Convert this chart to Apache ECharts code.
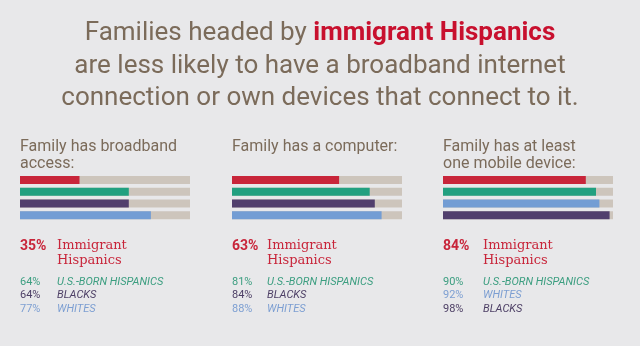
<!DOCTYPE html>
<html><head><meta charset="utf-8">
<script src="https://cdn.jsdelivr.net/npm/echarts@6/dist/echarts.min.js"></script>
<style>html,body{margin:0;padding:0;background:#e8e8ea}#c{width:640px;height:346px}</style>
</head><body><div id="c"></div>
<script>
var panelTitles = [["Family has broadband", "access:"], ["Family has a computer:"], ["Family has at least", "one mobile device:"]];
var panel1Groups = ["Immigrant Hispanics", "U.S.-BORN HISPANICS", "BLACKS", "WHITES"];
var panel1Values = [35, 64, 64, 77];
var panel2Groups = ["Immigrant Hispanics", "U.S.-BORN HISPANICS", "BLACKS", "WHITES"];
var panel2Values = [63, 81, 84, 88];
var panel3Groups = ["Immigrant Hispanics", "U.S.-BORN HISPANICS", "WHITES", "BLACKS"];
var panel3Values = [84, 90, 92, 98];

var groupColors = {"Immigrant Hispanics": "#c8253a", "U.S.-BORN HISPANICS": "#22a080", "BLACKS": "#513f6d", "WHITES": "#739dd4"};
var textColors = {"Immigrant Hispanics": "#c8253a", "U.S.-BORN HISPANICS": "#3c9e80", "BLACKS": "#4e4066", "WHITES": "#7d9fd2"};
var panels = [
  {groups: panel1Groups, values: panel1Values, left: 20, nameX: 57},
  {groups: panel2Groups, values: panel2Values, left: 232, nameX: 267},
  {groups: panel3Groups, values: panel3Values, left: 443, nameX: 483}
];
var titleColor = "#7b6b5a";
var grids = [], xAxes = [], yAxes = [], series = [], graphics = [];

graphics.push({type: 'text', style: {x: 320, y: 33, align: 'center', verticalAlign: 'middle',
  text: 'Families headed by {r|immigrant Hispanics}', fill: titleColor, font: '26px Roboto',
  rich: {r: {fill: '#c8102e', font: 'bold 26px Roboto'}}}});
graphics.push({type: 'text', style: {x: 320, y: 66, align: 'center', verticalAlign: 'middle',
  text: 'are less likely to have a broadband internet', fill: titleColor, font: '26px Roboto'}});
graphics.push({type: 'text', style: {x: 320, y: 98, align: 'center', verticalAlign: 'middle',
  text: 'connection or own devices that connect to it.', fill: titleColor, font: '26px Roboto'}});

panels.forEach(function (p, i) {
  grids.push({left: p.left, top: 174, width: 170, height: 47, containLabel: false});
  xAxes.push({type: 'value', gridIndex: i, min: 0, max: 100, show: false});
  yAxes.push({type: 'category', gridIndex: i, data: p.groups, inverse: true, show: false});
  series.push({type: 'bar', xAxisIndex: i, yAxisIndex: i, barWidth: 8, silent: true,
    showBackground: true, backgroundStyle: {color: '#cdc5bc'},
    data: p.values.map(function (v, k) { return {value: v, itemStyle: {color: groupColors[p.groups[k]]}}; })});
  panelTitles[i].forEach(function (t, k) {
    graphics.push({type: 'text', style: {x: p.left, y: 147 + k * 17, verticalAlign: 'middle', text: t,
      fill: titleColor, font: '16px Roboto'}});
  });
  graphics.push({type: 'text', style: {x: p.left, y: 246, verticalAlign: 'middle', text: p.values[0] + '%',
    fill: textColors[p.groups[0]], font: 'bold 14px Roboto'}});
  graphics.push({type: 'text', style: {x: p.nameX, y: 246, verticalAlign: 'middle', text: 'Immigrant',
    fill: textColors[p.groups[0]], font: '13px "DejaVu Serif"'}});
  graphics.push({type: 'text', style: {x: p.nameX, y: 261, verticalAlign: 'middle', text: 'Hispanics',
    fill: textColors[p.groups[0]], font: '13px "DejaVu Serif"'}});
  for (var k = 1; k < 4; k++) {
    var y = 282 + (k - 1) * 13.5;
    graphics.push({type: 'text', style: {x: p.left, y: y, verticalAlign: 'middle', text: p.values[k] + '%',
      fill: textColors[p.groups[k]], font: '11px Roboto'}});
    graphics.push({type: 'text', style: {x: p.nameX, y: y, verticalAlign: 'middle', text: p.groups[k],
      fill: textColors[p.groups[k]], font: 'italic 11px Roboto'}});
  }
});

var chart = echarts.init(document.getElementById('c'));
chart.setOption({backgroundColor: '#e8e8ea', animation: false, grid: grids, xAxis: xAxes, yAxis: yAxes,
  series: series, graphic: graphics});
</script></body></html>
